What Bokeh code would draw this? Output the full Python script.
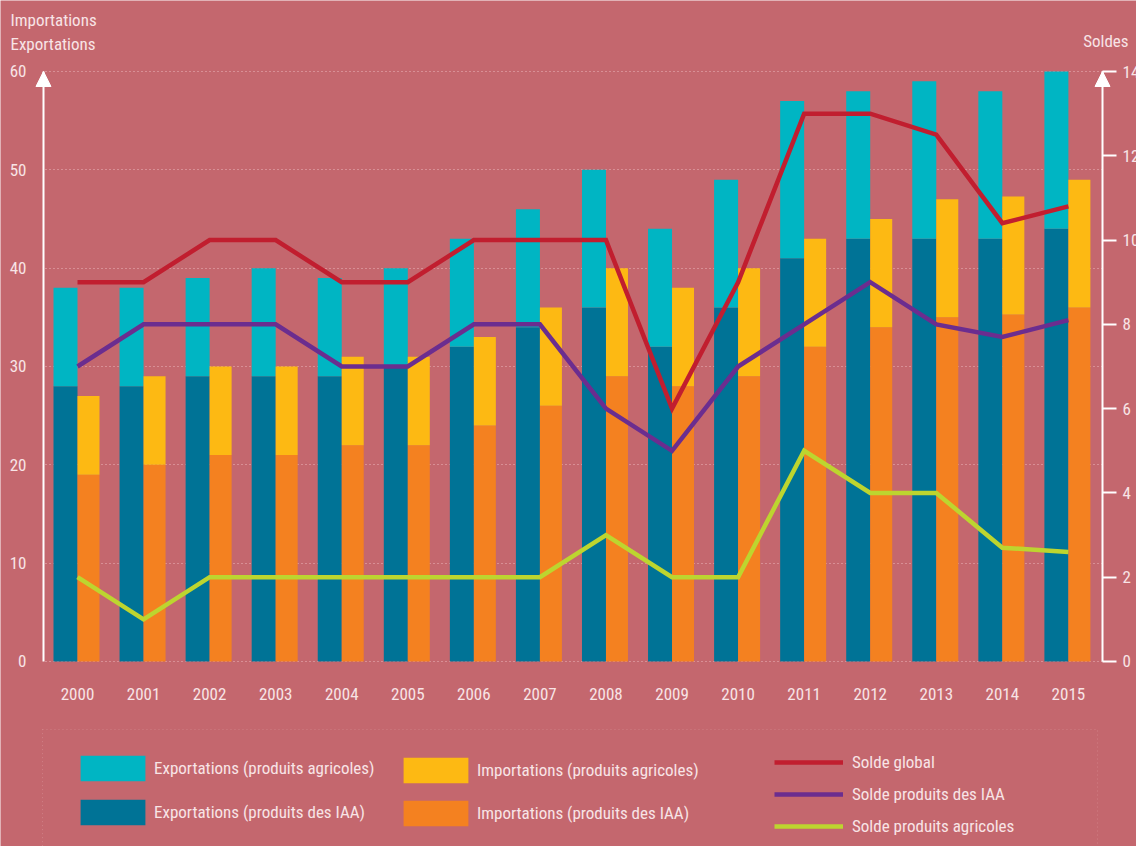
from bokeh.plotting import figure
from bokeh.models import (ColumnDataSource, Range1d, LinearAxis, FixedTicker, Legend,
                          LegendItem, Label, Arrow, NormalHead, BoxAnnotation)
from bokeh.transform import dodge
from bokeh.embed import file_html
from bokeh.resources import INLINE

# ---- data ----
years = list(range(2000, 2016))
exp_iaa = [28, 28, 29, 29, 29, 30, 32, 34, 36, 32, 36, 41, 43, 43, 43, 44]
exp_agri = [10, 10, 10, 11, 10, 10, 11, 12, 14, 12, 13, 16, 15, 16, 15, 16]
imp_iaa = [19, 20, 21, 21, 22, 22, 24, 26, 29, 28, 29, 32, 34, 35, 35.3, 36]
imp_agri = [8, 9, 9, 9, 9, 9, 9, 10, 11, 10, 11, 11, 11, 12, 12, 13]
solde_global = [9, 9, 10, 10, 9, 9, 10, 10, 10, 6, 9, 13, 13, 12.5, 10.4, 10.8]
solde_iaa = [7, 8, 8, 8, 7, 7, 8, 8, 6, 5, 7, 8, 9, 8, 7.7, 8.1]
solde_agri = [2, 1, 2, 2, 2, 2, 2, 2, 3, 2, 2, 5, 4, 4, 2.7, 2.6]
left_ticks = [0, 10, 20, 30, 40, 50, 60]
right_ticks = [0, 2, 4, 6, 8, 10, 12, 14]

# ---- style ----
BG = "#c4676e"
TXT = "#f8e4e6"
GRID = "#ecb9bd"
FONT = "Roboto Condensed"
FS = "17px"
C_EXP_AGRI = "#00b5c3"
C_EXP_IAA = "#007396"
C_IMP_AGRI = "#fdb913"
C_IMP_IAA = "#f48120"
C_GLOBAL = "#c11e2f"
C_IAA = "#6b2d8f"
C_AGRI = "#bdd52f"

src = ColumnDataSource(dict(year=years, exp_iaa=exp_iaa, exp_agri=exp_agri,
                            imp_iaa=imp_iaa, imp_agri=imp_agri,
                            sg=solde_global, si=solde_iaa, sa=solde_agri))

# axis positions (data coords of the left / right axis lines)
X0, X1 = 1999.485, 2015.5166
p = figure(width=1136, height=846, output_backend="svg", toolbar_location=None,
           x_range=Range1d(1998.8344, 2016.031), y_range=Range1d(-18.814, 67.22),
           min_border=0, min_border_left=0, min_border_right=0,
           min_border_top=0, min_border_bottom=0,
           background_fill_color=BG, border_fill_color=BG, outline_line_color=None)
p.extra_y_ranges = {"soldes": Range1d(-4.390, 15.685)}

# grid
p.xgrid.visible = False
p.ygrid.ticker = FixedTicker(ticks=left_ticks)
p.ygrid.grid_line_color = GRID
p.ygrid.grid_line_dash = "1 3"
p.ygrid.grid_line_width = 1
try:
    p.ygrid.cross_bounds = (X0 + 0.03, X1)
except Exception:
    p.ygrid.visible = False
    p.segment(x0=X0 + 0.03, x1=X1, y0=left_ticks, y1=left_ticks, line_color=GRID,
              line_dash="1 3", line_width=1, level="underlay")

# x axis
xa = p.xaxis[0]
xa.fixed_location = 0
xa.ticker = FixedTicker(ticks=years)
xa.axis_line_color = None
xa.major_tick_line_color = None
xa.minor_tick_line_color = None
xa.major_label_standoff = 21
xa.major_label_text_font = FONT
xa.major_label_text_font_size = FS
xa.major_label_text_color = TXT

# left axis
ya = p.yaxis[0]
ya.fixed_location = X0
ya.bounds = (0, 60)
ya.ticker = FixedTicker(ticks=left_ticks)
ya.axis_line_color = "white"
ya.axis_line_width = 2
ya.major_tick_line_color = None
ya.minor_tick_line_color = None
ya.major_label_standoff = 11
ya.major_label_text_font = FONT
ya.major_label_text_font_size = FS
ya.major_label_text_color = TXT

# right axis
ra = LinearAxis(y_range_name="soldes", ticker=FixedTicker(ticks=right_ticks),
                fixed_location=X1, bounds=(0, 14))
ra.axis_line_color = "white"
ra.axis_line_width = 2
ra.major_tick_line_color = "white"
ra.major_tick_line_width = 2
ra.major_tick_out = 14
ra.major_tick_in = 0
ra.minor_tick_line_color = None
ra.major_label_standoff = 6
ra.major_label_text_font = FONT
ra.major_label_text_font_size = FS
ra.major_label_text_color = TXT
p.add_layout(ra, "right")

# bars
exp_r = p.vbar_stack(["exp_iaa", "exp_agri"], x=dodge("year", -0.1816, range=p.x_range),
                     width=0.3633, fill_color=[C_EXP_IAA, C_EXP_AGRI], line_color=None, source=src)
imp_r = p.vbar_stack(["imp_iaa", "imp_agri"], x=dodge("year", 0.1665, range=p.x_range),
                     width=0.333, fill_color=[C_IMP_IAA, C_IMP_AGRI], line_color=None, source=src)

# lines
lg = p.line("year", "sg", source=src, y_range_name="soldes", line_color=C_GLOBAL,
            line_width=4.5, line_join="miter")
li = p.line("year", "si", source=src, y_range_name="soldes", line_color=C_IAA,
            line_width=4.5, line_join="miter")
la = p.line("year", "sa", source=src, y_range_name="soldes", line_color=C_AGRI,
            line_width=4.5, line_join="miter")

# axis arrows
for xx in (X0, X1):
    p.add_layout(Arrow(end=NormalHead(size=15, fill_color="white", line_color="white", line_width=1),
                       x_start=xx, y_start=55, x_end=xx, y_end=60, line_alpha=0))

# axis titles
for txt, yy in (("Importations", 65.2), ("Exportations", 62.75)):
    p.add_layout(Label(x=X0 - 0.5, y=yy, text=txt, text_font=FONT, text_font_size=FS,
                       text_color=TXT, text_baseline="middle", text_align="left"))
p.add_layout(Label(x=X1 + 0.394, y=63.15, text="Soldes", text_font=FONT, text_font_size=FS,
                   text_color=TXT, text_baseline="middle", text_align="right"))

# legend frame
p.add_layout(BoxAnnotation(left=X0 - 0.015, right=X1 - 0.076, top=-6.92, bottom=-40,
                           fill_alpha=0, line_color=GRID, line_dash="1 3", line_width=1))

def mk_legend(items, loc, gw, gh, spacing, standoff):
    lgd = Legend(items=items, location=loc, orientation="vertical",
                 glyph_width=gw, glyph_height=gh, spacing=spacing, padding=0, margin=0,
                 label_standoff=standoff, label_text_font=FONT, label_text_font_size=FS,
                 label_text_color=TXT, background_fill_alpha=0, border_line_alpha=0)
    p.add_layout(lgd, "center")

mk_legend([LegendItem(label="Exportations (produits agricoles)", renderers=[exp_r[1]]),
           LegendItem(label="Exportations (produits des IAA)", renderers=[exp_r[0]])],
          (72, 18), 81, 32, 12, 1)
mk_legend([LegendItem(label="Importations (produits agricoles)", renderers=[imp_r[1]]),
           LegendItem(label="Importations (produits des IAA)", renderers=[imp_r[0]])],
          (395, 17), 81, 32, 11, 1)
mk_legend([LegendItem(label="Solde global", renderers=[lg]),
           LegendItem(label="Solde produits des IAA", renderers=[li]),
           LegendItem(label="Solde produits agricoles", renderers=[la])],
          (774, 10), 69, 20, 12, 9)

open("out.html", "w").write(file_html(p, INLINE))
